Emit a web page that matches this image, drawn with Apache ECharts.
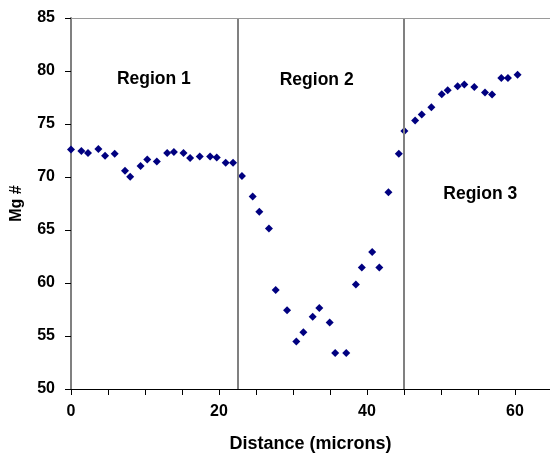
<!DOCTYPE html>
<html>
<head>
<meta charset="utf-8">
<script src="https://cdn.jsdelivr.net/npm/echarts@6/dist/echarts.min.js"></script>
<style>
html,body{margin:0;padding:0;background:#fff;}
#chart{width:550px;height:457px;}
</style>
</head>
<body>
<div id="chart"></div>
<script>
var distance = [0,1.4,2.3,3.7,4.6,5.9,7.3,8.0,9.4,10.3,11.6,13.0,13.9,15.2,16.1,17.4,18.8,19.7,20.9,21.9,23.1,24.55,25.45,26.75,27.66,29.2,30.45,31.4,32.66,33.56,34.96,35.7,37.2,38.5,39.3,40.7,41.66,42.9,44.3,45.05,46.5,47.4,48.7,50.1,50.9,52.25,53.15,54.5,55.95,56.9,58.15,59.05,60.35];
var mgNumber = [72.6,72.45,72.26,72.64,72.0,72.2,70.6,70.02,71.03,71.66,71.47,72.26,72.35,72.26,71.8,71.94,71.94,71.85,71.35,71.35,70.1,68.16,66.71,65.13,59.33,57.44,54.47,55.36,56.81,57.63,56.27,53.4,53.4,59.86,61.47,62.93,61.47,68.57,72.2,74.34,75.32,75.89,76.58,77.81,78.19,78.57,78.73,78.5,77.97,77.78,79.35,79.35,79.64];
var regionBoundaries = [22.5, 45];
var regionNames = ['Region 1', 'Region 2', 'Region 3'];
var regionLabelX = [11.2, 33.2, 55.3];
var regionLabelY = [79.2, 79.1, 68.35];
var xTickLabels = [0, 20, 40, 60];

var FONT = "'Liberation Sans', Arial, sans-serif";
var points = distance.map(function (d, i) { return [d, mgNumber[i]]; });
var labelPts = regionNames.map(function (n, i) { return [regionLabelX[i], regionLabelY[i], n]; });

var chart = echarts.init(document.getElementById('chart'), null, {renderer: 'canvas'});
chart.setOption({
  animation: false,
  backgroundColor: '#ffffff',
  grid: {left: 71, right: 0, top: 18, bottom: 68, show: false, outerBoundsMode: 'none', containLabel: false},
  xAxis: {
    type: 'value', min: 0, max: 64.73, interval: 5,
    name: 'Distance (microns)', nameLocation: 'middle', nameGap: 55,
    nameTextStyle: {fontFamily: FONT, fontWeight: 'bold', fontSize: 18, color: '#000', verticalAlign: 'middle'},
    axisLine: {show: true, onZero: false, lineStyle: {color: '#000', width: 1}},
    axisTick: {show: true, inside: false, length: 6, lineStyle: {color: '#000', width: 1}},
    axisLabel: {margin: 15, fontFamily: FONT, fontWeight: 'bold', fontSize: 16, color: '#000',
      formatter: function (v) { return xTickLabels.indexOf(v) >= 0 ? String(v) : ''; }},
    splitLine: {show: false}
  },
  yAxis: {
    type: 'value', min: 50, max: 85, interval: 5,
    name: 'Mg #', nameLocation: 'middle', nameGap: 54, nameRotate: 90,
    nameTextStyle: {fontFamily: FONT, fontWeight: 'bold', fontSize: 16, color: '#000', verticalAlign: 'middle'},
    axisLine: {show: true, lineStyle: {color: '#808080', width: 2}},
    axisTick: {show: true, inside: false, length: 6, lineStyle: {color: '#000', width: 1}},
    axisLabel: {margin: 16, fontFamily: FONT, fontWeight: 'bold', fontSize: 16, color: '#000'},
    splitLine: {show: false}
  },
  series: [
    {
      type: 'scatter', data: points, symbol: 'diamond', symbolSize: 8,
      itemStyle: {color: '#000080', opacity: 1},
      markLine: {
        silent: true, symbol: ['none', 'none'], label: {show: false},
        lineStyle: {color: '#808080', width: 2, type: 'solid', opacity: 1},
        data: regionBoundaries.map(function (b) { return {xAxis: b}; })
          .concat([{yAxis: 85, lineStyle: {width: 1, color: '#9a9a9a'}}])
      },
      z: 3
    },
    {
      type: 'scatter', data: labelPts, symbolSize: 0, silent: true,
      itemStyle: {opacity: 1},
      label: {show: true, position: 'inside', formatter: function (p) { return p.data[2]; },
        fontFamily: FONT, fontWeight: 'bold', fontSize: 17.5, color: '#000', opacity: 1},
      z: 4
    }
  ]
});
</script>
</body>
</html>
